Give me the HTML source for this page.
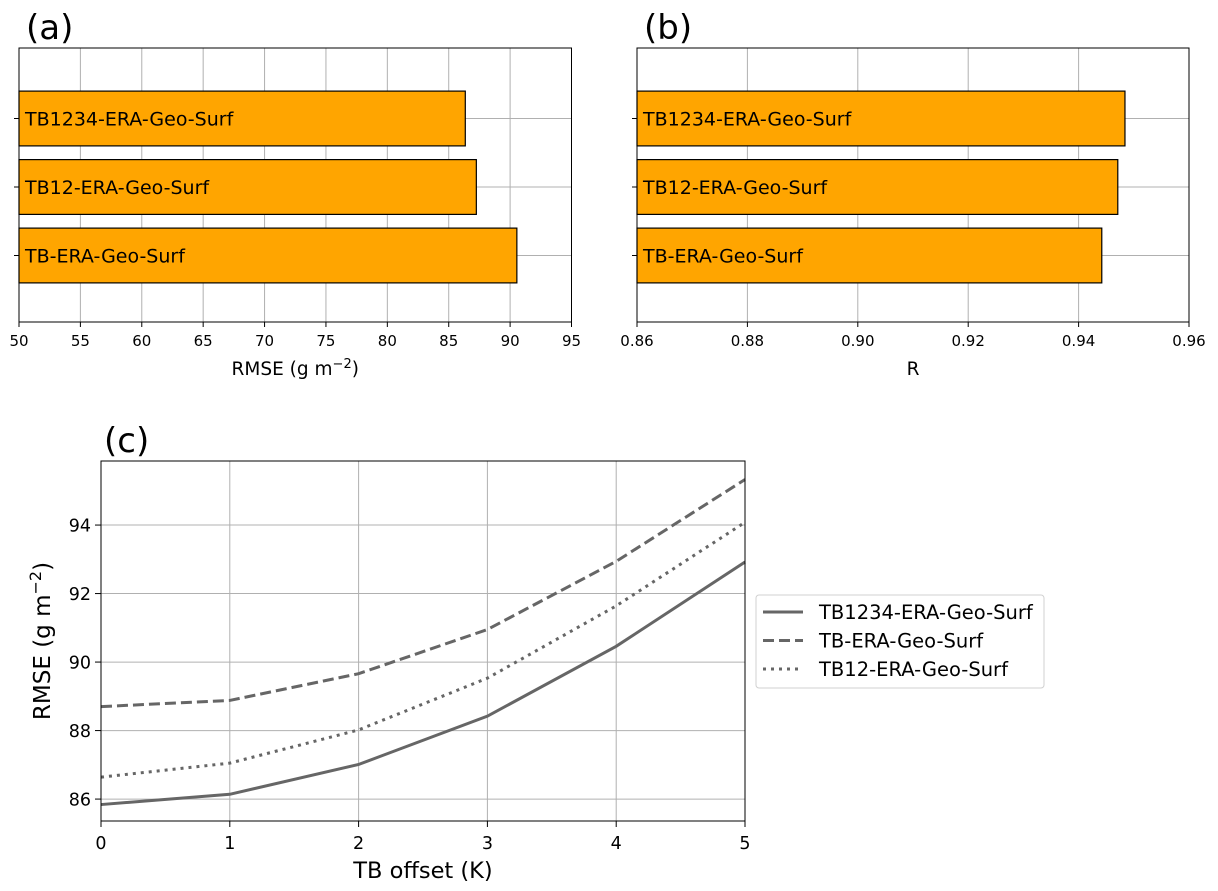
<!DOCTYPE html>
<html><head><meta charset="utf-8"><style>
html,body{margin:0;padding:0;background:#fff;}
svg{display:block;font-family:"DejaVu Sans","Liberation Sans",sans-serif;}
</style></head><body>
<svg id="fig" width="1218" height="891" viewBox="0 0 1218 891" xmlns="http://www.w3.org/2000/svg"></svg>
<script>
const barCategories = ["TB-ERA-Geo-Surf","TB12-ERA-Geo-Surf","TB1234-ERA-Geo-Surf"];
const rmseValues = [90.55, 87.25, 86.35];
const rValues = [0.9442, 0.9471, 0.9484];
const rmseTicks = [50,55,60,65,70,75,80,85,90,95];
const rTicks = [0.86,0.88,0.90,0.92,0.94,0.96];
const offsets = [0,1,2,3,4,5];
const solidSeries = [85.84,86.14,87.01,88.42,90.46,92.92];
const dashedSeries = [88.70,88.88,89.66,90.95,92.94,95.33];
const dottedSeries = [86.64,87.05,88.02,89.53,91.64,94.08];
const cXTicks = [0,1,2,3,4,5];
const cYTicks = [86,88,90,92,94];

const NS="http://www.w3.org/2000/svg";
const fig=document.getElementById('fig');
function el(tag,attrs,parent,text){const e=document.createElementNS(NS,tag);for(const k in attrs)e.setAttribute(k,attrs[k]);if(text!==undefined)e.textContent=text;(parent||fig).appendChild(e);return e;}

function barPanel(name,x0,x1,y0,y1,xmin,xmax,ticks,fmt,values,xlabel,label,supLabel){
  const g=el('g',{});
  
  
  const sx=v=>x0+(v-xmin)/(xmax-xmin)*(x1-x0);
  const sy=v=>y1+2-(v-(-1))/(3-(-1))*(y1-y0);
  ticks.forEach(t=>{
    const gl=el('line',{x1:sx(t),x2:sx(t),y1:y0,y2:y1,stroke:'#b0b0b0','stroke-width':1},g);
    
    
    el('line',{x1:sx(t),x2:sx(t),y1:y1,y2:y1+5,stroke:'#000','stroke-width':1},g);
    const tl=el('text',{x:sx(t),y:y1+24,'text-anchor':'middle','font-size':15},g,fmt(t));
    
    
  });
  barCategories.forEach((c,i)=>{
    el('line',{x1:x0,x2:x1,y1:sy(i),y2:sy(i),stroke:'#b0b0b0','stroke-width':1},g);
    el('line',{x1:x0-5,x2:x0,y1:sy(i),y2:sy(i),stroke:'#000','stroke-width':1},g);
  });
  barCategories.forEach((c,i)=>{
    const h=sy(0)-sy(0.8);
    const r=el('rect',{x:sx(xmin),y:sy(i)-h/2,width:sx(values[i])-sx(xmin),height:h,fill:'#ffa500',stroke:'#000','stroke-width':1.2},g);
    
    
    const t=el('text',{x:x0+6,y:sy(i)+7,'font-size':19},g,c);
    
    
  });
  el('rect',{x:x0,y:y0,width:x1-x0,height:y1-y0,fill:'none',stroke:'#000','stroke-width':1},g);
  const xl=el('text',{x:(x0+x1)/2,y:y1+53,'text-anchor':'middle','font-size':18.5},g,xlabel);
  
  
  if(supLabel){el('tspan',{dy:-7,'font-size':13},xl,supLabel);el('tspan',{dy:7},xl,')');}
  const pl=el('text',{x:x0+7,y:y0-9,'font-size':34},g,label);
  
  
}
barPanel('panel-a-rmse-bars',19,571.5,48,322,50,95,rmseTicks,t=>String(t),rmseValues,'RMSE (g m','(a)','−2');
barPanel('panel-b-r-bars',637,1189,48,322,0.86,0.96,rTicks,t=>t.toFixed(2),rValues,'R','(b)',null);

// panel c
(function(){
  const x0=101,x1=745,y0=461,y1=821,ymin=85.36,ymax=95.87;
  const g=el('g',{});
  
  
  const sx=v=>x0+v/5*(x1-x0);
  const sy=v=>y1-(v-ymin)/(ymax-ymin)*(y1-y0);
  cXTicks.forEach(t=>{
    el('line',{x1:sx(t),x2:sx(t),y1:y0,y2:y1,stroke:'#b0b0b0','stroke-width':1},g);
    el('line',{x1:sx(t),x2:sx(t),y1:y1,y2:y1+6,stroke:'#000','stroke-width':1},g);
    const tl=el('text',{x:sx(t),y:y1+28,'text-anchor':'middle','font-size':17.5},g,String(t));
    
    
  });
  cYTicks.forEach(t=>{
    el('line',{x1:x0,x2:x1,y1:sy(t),y2:sy(t),stroke:'#b0b0b0','stroke-width':1},g);
    el('line',{x1:x0-6,x2:x0,y1:sy(t),y2:sy(t),stroke:'#000','stroke-width':1},g);
    const tl=el('text',{x:x0-10,y:sy(t)+6.5,'text-anchor':'end','font-size':17.5},g,String(t));
    
    
  });
  const series=[[solidSeries,'none','line-tb1234'],[dashedSeries,'11,5','line-tb'],[dottedSeries,'3,5','line-tb12']];
  series.forEach(s=>{
    const pts=offsets.map((o,i)=>sx(o)+','+sy(s[0][i])).join(' ');
    const p=el('polyline',{points:pts,fill:'none',stroke:'#666','stroke-width':3,'stroke-dasharray':s[1]},g);
    
    
  });
  el('rect',{x:x0,y:y0,width:x1-x0,height:y1-y0,fill:'none',stroke:'#000','stroke-width':1},g);
  const xl=el('text',{x:(x0+x1)/2,y:y1+57,'text-anchor':'middle','font-size':22.5},g,'TB offset (K)');
  
  
  const yl=el('text',{x:0,y:0,'text-anchor':'middle','font-size':23,transform:'translate(50,'+((y0+y1)/2)+') rotate(-90)'},g,'RMSE (g m');
  el('tspan',{dy:-9,'font-size':16},yl,'−2');el('tspan',{dy:9},yl,')');
  
  
  const pl=el('text',{x:104,y:452,'font-size':34},g,'(c)');
  
  
  // legend
  const lg=el('g',{},g);
  
  
  el('rect',{x:756,y:595,width:288,height:93,rx:3,fill:'#fff',stroke:'#d0d0d0','stroke-width':1},lg);
  const entries=[['TB1234-ERA-Geo-Surf','none'],['TB-ERA-Geo-Surf','11,5'],['TB12-ERA-Geo-Surf','3,5']];
  entries.forEach((e,i)=>{
    const y=612+i*28.5;
    el('line',{x1:763,x2:803,y1:y,y2:y,stroke:'#666','stroke-width':3,'stroke-dasharray':e[1]},lg);
    const t=el('text',{x:819,y:y+7,'font-size':19.5},lg,e[0]);
    
    
  });
})();
</script>
</body></html>
